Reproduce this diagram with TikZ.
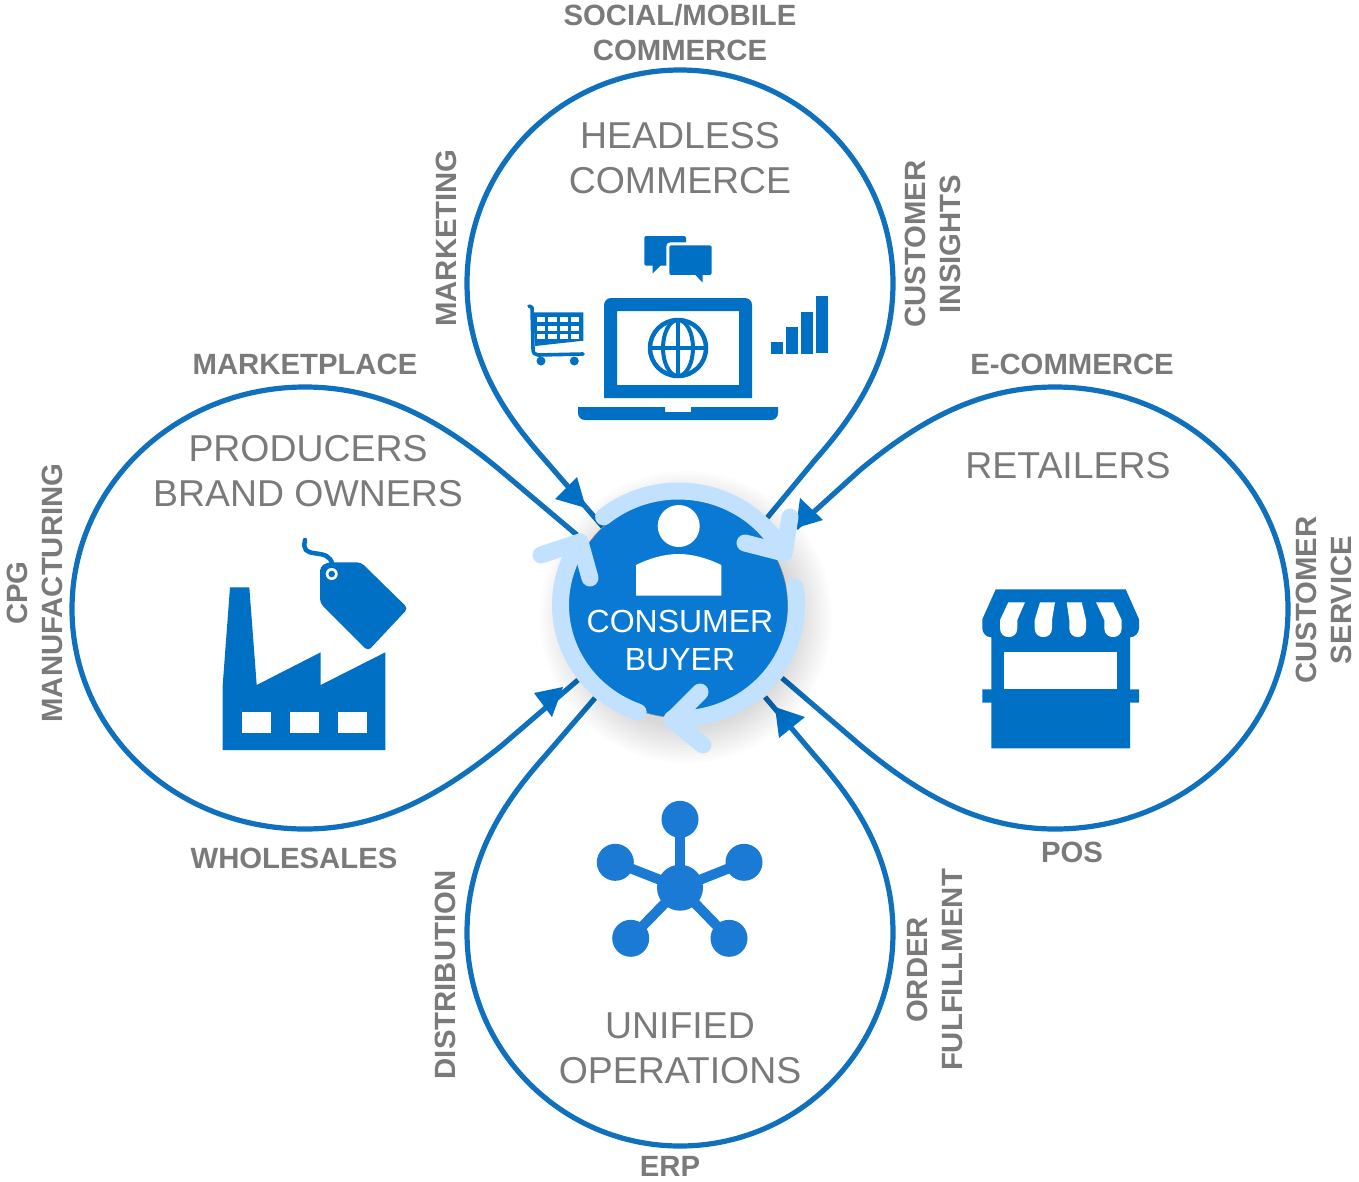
\documentclass[tikz,border=0pt]{standalone}
\usepackage{fontspec}
\setmainfont{Liberation Sans}
\definecolor{petal}{HTML}{0F70BE}
\definecolor{icon}{HTML}{0070C4}
\definecolor{disc}{HTML}{0A79D3}
\definecolor{ringc}{HTML}{C2E1FF}
\definecolor{net}{HTML}{1A7AD4}
\definecolor{txt}{HTML}{7A7A7A}
\tikzset{
  petalline/.style={draw=petal,line width=5.2pt,line join=round},
  tiparrow/.style={fill=icon},
  ringline/.style={draw=ringc,line width=17pt,line cap=round,line join=round},
  lab/.style={text=txt,font=\fontsize{29.3}{35}\selectfont\bfseries,align=center,inner sep=0pt},
  head/.style={text=txt,font=\fontsize{37.4}{45}\selectfont,align=center,inner sep=0pt},
  ico/.style={fill=icon},
  hole/.style={fill=white},
  netn/.style={circle,fill=net,inner sep=0pt,minimum size=37pt},
}
\begin{document}
\begin{tikzpicture}[x=1pt,y=-1pt]
\useasboundingbox (0,0) rectangle (1359,1181);
\clip (0,0) rectangle (1359,1181);
% petals
\draw[petalline] (603,527) -- (545,460) .. controls (505,415) and (467,360) .. (467,283)
  .. controls (467,165.4) and (562.4,70) .. (680,70)
  .. controls (797.6,70) and (893,165.4) .. (893,283)
  .. controls (893,360) and (855,415) .. (815,460) -- (767,518);
\draw[petalline] (595,698) -- (545,756) .. controls (505,801) and (467,856) .. (467,933)
  .. controls (467,1050.6) and (562.4,1146) .. (680,1146)
  .. controls (797.6,1146) and (893,1050.6) .. (893,933)
  .. controls (893,856) and (855,801) .. (815,756) -- (765,697);
\draw[petalline] (577,535) -- (500,470) .. controls (440,420) and (380,387) .. (305,387)
  .. controls (176,387) and (72,486) .. (72,609)
  .. controls (72,732) and (176,829) .. (305,829)
  .. controls (380,829) and (440,795) .. (500,747) -- (578,680);
\draw[petalline] (796,528) -- (860,470) .. controls (920,420) and (980,387) .. (1055,387)
  .. controls (1184,387) and (1288,486) .. (1288,609)
  .. controls (1288,732) and (1184,829) .. (1055,829)
  .. controls (980,829) and (920,795) .. (860,745) -- (782,678);
% arrow tips
\fill[tiparrow] (577,477) -- (555,499) -- (586,508) -- cycle;
\fill[tiparrow] (800,498) -- (823,520) -- (796,528) -- cycle;
\fill[tiparrow] (534,693) -- (563,687) -- (552,717) -- cycle;
\fill[tiparrow] (775,707) -- (805,717) -- (779,738) -- cycle;
% shadow
\foreach \r in {146,143,...,110}{\fill[black,opacity=0.012] (686,617) circle[radius=\r pt];}
% disc
\node[circle,fill=disc,draw=black!45,line width=0.6pt,inner sep=0pt,minimum size=220pt] (core) at (678,607.5) {};
% ring
\draw[ringline] plot[domain=129.4:27,samples=50] ({678.5+118*cos(\x)},{605-114*sin(\x)});
\draw[ringline] (790,517) -- (784,553) -- (745,543);
\draw[ringline] plot[domain=9:-93,samples=50] ({678.5+118*cos(\x)},{605-114*sin(\x)});
\draw[ringline] (700,692) -- (672,720) -- (703,745);
\draw[ringline] plot[domain=250:146.5,samples=50] ({678.5+118*cos(\x)},{605-114*sin(\x)});
\draw[ringline] (541,555) -- (580,542) -- (590,578);
% person
\fill[white] (678.7,526) circle[radius=21pt];
\fill[white] (636,595.7) -- (636,565) .. controls (650,558) and (665,554) .. (678.7,554) .. controls (692,554) and (707,558) .. (721.3,565) -- (721.3,595.7) -- cycle;
\node[text=white,font=\fontsize{32}{38}\selectfont,align=center,inner sep=0pt] (consumer) at (680,640) {CONSUMER\\BUYER};
% laptop
\fill[ico,even odd rule,rounded corners=0pt] (604,398) -- (604,305) arc[start angle=180,end angle=90,radius=7pt] -- (745,298) arc[start angle=90,end angle=0,radius=7pt] -- (752,398) -- cycle (617,311) rectangle (739,385);
\fill[ico] (578,407) -- (665,407) -- (665,412) -- (691,412) -- (691,407) -- (778,407) -- (778,413) .. controls (778,417) and (775,420) .. (771,420) -- (585,420) .. controls (581,420) and (578,417) .. (578,413) -- cycle;
\draw[draw=icon,line width=4.5pt] (678,348) circle[radius=28pt];
\draw[draw=icon,line width=4pt] (678,348) ellipse[x radius=15pt,y radius=28pt];
\draw[draw=icon,line width=4pt] (678,320) -- (678,376) (650,348) -- (706,348);
% chat
\fill[ico,rounded corners=2pt] (644.3,236) rectangle (686,265.7);
\fill[ico] (652.7,264) -- (652.7,273.3) -- (662,264) -- cycle;
\filldraw[fill=icon,draw=white,line width=3pt,rounded corners=3pt] (667.8,243.8) rectangle (713.2,276.5);
\fill[ico] (694,273.5) -- (702.7,282.7) -- (702.7,273.5) -- cycle;
% cart
\draw[draw=icon,line width=3.6pt,line cap=round,line join=round] (529,306) -- (532,307.5) -- (533,349) .. controls (533,353) and (535,355) .. (538,355) -- (583,354);
\fill[ico] (533,312.3) -- (583.3,312.3) -- (583.3,340.7) -- (535,346) -- cycle;
\foreach \cx in {536.7,548.3,559.6,571}{\foreach \cy/\ch in {317.3/5,325.7/5,334/5}{\fill[hole] (\cx,\cy) rectangle ++(8.2,\ch);}}
\fill[ico] (541,361) circle[radius=4.5pt];
\fill[ico] (574.3,361) circle[radius=4.5pt];
% bars
\fill[ico] (771,342) rectangle (783,354);
\fill[ico] (786,327) rectangle (798,354);
\fill[ico] (801,312) rectangle (813,354);
\fill[ico] (816,296) rectangle (828,353);
% factory
\fill[ico] (222.7,750) -- (222.7,685) -- (230,587.3) -- (249.3,587.3) -- (256.7,685) -- (320.7,652.3) -- (320.7,685) -- (385.3,652.3) -- (385.3,750) -- cycle;
\fill[hole] (242,711.7) rectangle (270.7,733.3);
\fill[hole] (290,711.7) rectangle (318.7,733.3);
\fill[hole] (337.7,711.7) rectangle (366.7,733.3);
% tag
\draw[draw=icon,line width=4.5pt,line cap=round] (305,540) .. controls (303,550) and (306,552) .. (315,553.3) .. controls (325,554.5) and (330,556) .. (332.3,564);
\fill[ico,rounded corners=4pt] (327,562.3) -- (361,562.3) -- (408,608.3) -- (368,651) -- (320,603) -- (320,567) -- cycle;
\fill[hole] (331.7,574) circle[radius=6pt];
\fill[ico] (331.7,574) circle[radius=3.3pt];
% store
\fill[ico] (995.7,589.3) -- (1125.7,589.3) -- (1139,619.3) -- (1139,628) .. controls (1139,633) and (1135,637.3) .. (1130,637.3) -- (1130,689.3) -- (1139,689.3) -- (1139,702.7) -- (1130,702.7) -- (1130,748.3) -- (991.3,748.3) -- (991.3,702.7) -- (982.3,702.7) -- (982.3,689.3) -- (991.3,689.3) -- (991.3,637.3) .. controls (986,637.3) and (982.3,633) .. (982.3,628) -- (982.3,619.3) -- cycle;
\fill[hole] (1004.3,652.3) rectangle (1117.3,689.3);
\fill[hole] (1008.3,602.3) -- (1025,602.3) -- (1017.3,620) -- (1017.3,628.3) .. controls (1017.3,640) and (1000,640) .. (1000,628.3) -- (1000,620) -- cycle;
\fill[hole] (1040,602.3) -- (1055,602.3) -- (1052,620) -- (1052,628.3) .. controls (1052,640) and (1034.7,640) .. (1034.7,628.3) -- (1034.7,620) -- cycle;
\fill[hole] (1066.7,602.3) -- (1081.7,602.3) -- (1086,620) -- (1086,628.3) .. controls (1086,640) and (1069.3,640) .. (1069.3,628.3) -- (1069.3,620) -- cycle;
\fill[hole] (1096,602.3) -- (1113.3,602.3) -- (1121.7,620) -- (1121.7,628.3) .. controls (1121.7,640) and (1104.3,640) .. (1104.3,628.3) -- (1104.3,620) -- cycle;
% network
\node[circle,fill=net,inner sep=0pt,minimum size=46pt] (hub) at (680,887.7) {};
\node[netn] (n1) at (680,819.3) {};
\node[netn] (n2) at (615.3,862.3) {};
\node[netn] (n3) at (744,862.3) {};
\node[netn] (n4) at (630.7,938.3) {};
\node[netn] (n5) at (729,938.3) {};
\foreach \n in {n1,n2,n3,n4,n5}{\draw[draw=net,line width=10pt] (hub.center) -- (\n.center);}
% headings
\node[head] (h1) at (680,158.5) {HEADLESS\\COMMERCE};
\node[head] (h2) at (308,471.5) {PRODUCERS\\BRAND OWNERS};
\node[head] (h3) at (1068,466) {RETAILERS};
\node[head] (h4) at (680,1048.5) {UNIFIED\\OPERATIONS};
% labels
\node[lab] (l1) at (680,32.5) {SOCIAL/MOBILE\\COMMERCE};
\node[lab,rotate=90] (l2) at (446,238) {MARKETING};
\node[lab,rotate=90] (l3) at (933,244) {CUSTOMER\\INSIGHTS};
\node[lab] (l4) at (305,364) {MARKETPLACE};
\node[lab] (l5) at (1072,364) {E-COMMERCE};
\node[lab,rotate=90] (l6) at (35,593) {CPG\\MANUFACTURING};
\node[lab,rotate=90] (l7) at (1324,600) {CUSTOMER\\SERVICE};
\node[lab] (l8) at (294,858) {WHOLESALES};
\node[lab] (l9) at (1072,852) {POS};
\node[lab,rotate=90] (l10) at (445,975) {DISTRIBUTION};
\node[lab,rotate=90] (l11) at (935,970) {ORDER\\FULFILLMENT};
\node[lab] (l12) at (670,1166.5) {ERP};
\end{tikzpicture}
\end{document}
